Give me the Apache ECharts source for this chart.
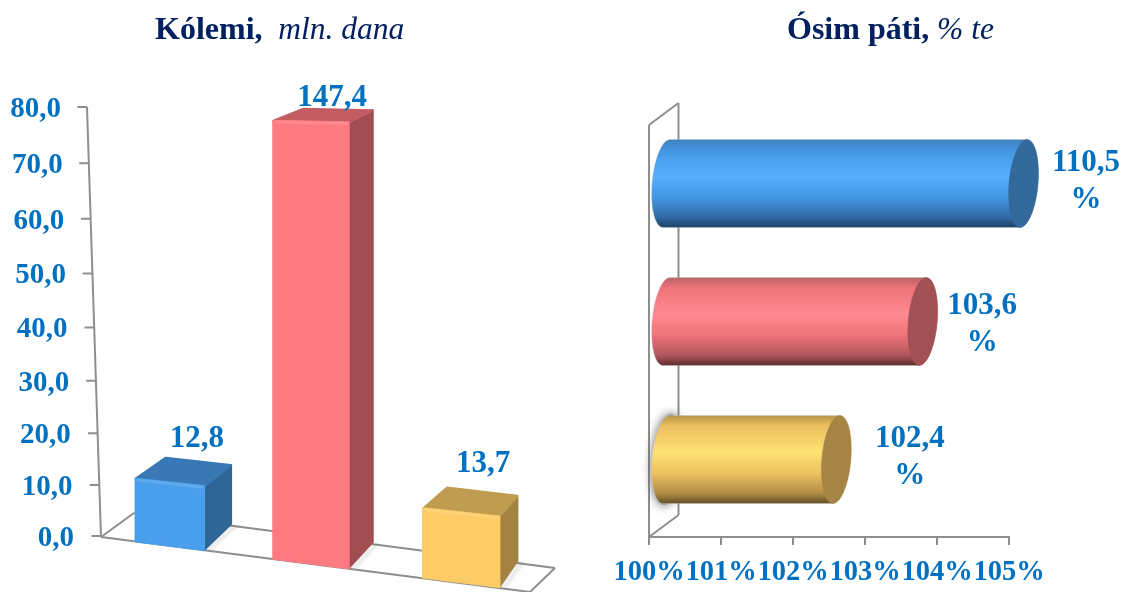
<!DOCTYPE html>
<html>
<head>
<meta charset="utf-8">
<style>html,body{margin:0;padding:0;background:#fff}#c{width:1123px;height:592px}</style>
<script src="https://cdn.jsdelivr.net/npm/echarts@6/dist/echarts.min.js"></script>
</head>
<body>
<div id="c"></div>
<script>
// ---- data ----
const categories = ['A', 'B', 'C'];
const volumeValues = [12.8, 147.4, 13.7];
const growthValues = [110.5, 103.6, 102.4];
const volumeTicks = [0, 10, 20, 30, 40, 50, 60, 70, 80];
const titleLeft = ['Kólemi,', '  mln. dana'];
const titleRight = ['Ósim páti,', ' % te'];

// ---- styling ----
const SERIF = '"Liberation Serif","Times New Roman",serif';
const BLUE = '#0070C0', NAVY = '#002060', FRAME = '#8E8E8E';
const boxFaces = [
  {front: '#4A9FEC', top: '#3A78B5', side: '#2F6697'},
  {front: '#FE7A81', top: '#C35C63', side: '#A04E52'},
  {front: '#FECC66', top: '#BF9C4F', side: '#A38343'}
];
const cylFaces = [
  {cap: '#33689A', stops: ['#3F7FBE', '#4595E0', '#55B0FF', '#4596E2', '#2F6AA6', '#1C4064']},
  {cap: '#A15054', stops: ['#B5646A', '#EE7279', '#FF8A91', '#EE7279', '#B0565C', '#5A2A2D']},
  {cap: '#A68544', stops: ['#B3934D', '#EDBE5E', '#FDE374', '#EDBE5E', '#B08E48', '#5E4B22']}
];
// perspective tuning of the drawn 3-D look
const boxNudgeX = [0, -4.5, 0], boxWidth = [68, 75, 76], boxHeightK = [0.955, 1.02, 0.98];
const boxDepthRight = [27, 24, 18], boxDepthLeft = [30, 30, 24];
const boxLabelDX = [27, 21, 22], boxLabelDY = [-19, -11, -24];
const cylLabelDX = [48, 45, 59], cylLabelDY = [-2.5, 3, -2];
const bow = v => 0.00375 * v * (80 - v);

const maxVolume = 80, maxGrowth = 105, minGrowth = 100;

const rich = {};
volumeTicks.forEach(v => {
  rich['t' + v] = {
    fontFamily: SERIF, fontWeight: 'bold', fontSize: 29, color: BLUE,
    padding: [2 * bow(v) + 5, v * 13 / 80 + 1, 0, 0]
  };
});

function poly(points, fill, stroke, extra) {
  return {type: 'polygon', shape: {points}, style: Object.assign({fill, stroke: stroke || fill, lineWidth: 2.5, lineJoin: 'round'}, extra || {})};
}

function renderFrameLeft(params, api) {
  const g = params.coordSys;
  const x0 = g.x, y0 = g.y + g.height;
  const axisX = v => x0 + 4 - 0.175 * v;
  const axisY = v => api.coord([0, v])[1] + bow(v);
  const line = (a, b) => ({type: 'line', shape: {x1: a[0], y1: a[1], x2: b[0], y2: b[1]}, style: {stroke: FRAME, lineWidth: 2}});
  const kids = [line([axisX(maxVolume), axisY(maxVolume)], [axisX(0), axisY(0) + 1])];
  volumeTicks.forEach(v => kids.push(line([axisX(v) - 9.5, axisY(v)], [axisX(v), axisY(v)])));
  const o = [axisX(0), y0 + 1];
  const back = [o[0] + 33, o[1] - 24];
  const backR = [o[0] + 454, o[1] + 31];
  const frontR = [o[0] + 429, o[1] + 55];
  kids.push(line(o, back), line(back, backR), line(backR, frontR), line(o, frontR));
  return {type: 'group', children: kids};
}

function renderBox(params, api) {
  const i = api.value(0), v = api.value(1);
  const g = params.coordSys;
  const shown = Math.min(v, maxVolume);
  const f = boxFaces[i];
  const cx = api.coord([i, 0])[0] + boxNudgeX[i];
  const w = boxWidth[i];
  const xL = cx - w / 2, xR = cx + w / 2;
  const floorY = x => g.y + g.height + 1 + 0.125 * (x - g.x - 4);
  const h = (api.coord([i, 0])[1] - (api.coord([i, shown])[1] + bow(shown))) * boxHeightK[i];
  const slope = 0.125 * (1 - h / 520);
  const bl = [xL, floorY(xL)], br = [xR, floorY(xR)];
  const tl = [xL, bl[1] - h], tr = [xR, bl[1] - h + slope * w];
  const dyTop = -22.5 + h * 0.024;
  const tr2 = [xR + boxDepthRight[i], tr[1] + dyTop];
  const br2 = [xR + boxDepthRight[i], br[1] - 26];
  const tl2 = [xL + boxDepthLeft[i], tl[1] + dyTop];
  const shadow = poly([[xR, br[1]], [br2[0], br2[1]], [br2[0] + 8, br2[1] + 2], [xR + 8, br[1] + 1]], 'rgba(120,120,120,0.10)', 'rgba(120,120,120,0)', {lineWidth: 0, shadowBlur: 6, shadowColor: 'rgba(120,120,120,0.25)'});
  const bevel = points => ({type: 'polyline', shape: {points}, style: {fill: 'none', stroke: 'rgba(255,255,255,0.12)', lineWidth: 3, lineJoin: 'round'}});
  return {type: 'group', children: [
    shadow,
    poly([tr, tr2, br2, br], f.side),
    poly([tl, tl2, tr2, tr], f.top),
    poly([tl, tr, br, bl], f.front),
    bevel([[tl[0] + 1, tl[1] + 1], [tr[0] - 1, tr[1] + 1]]),
    {type: 'text', style: {
      text: v.toFixed(1).replace('.', ','),
      x: cx + boxLabelDX[i], y: tl2[1] + boxLabelDY[i],
      fill: BLUE, font: 'bold 31px ' + SERIF, textAlign: 'center', textVerticalAlign: 'middle'
    }}
  ]};
}

function renderFrameRight(params, api) {
  const g = params.coordSys;
  const xO = api.coord([minGrowth, 0])[0];
  const bottom = g.y + g.height + 8.5, top = 125, dx = 29.5, dy = 22;
  const line = (a, b) => ({type: 'line', shape: {x1: a[0], y1: a[1], x2: b[0], y2: b[1]}, style: {stroke: FRAME, lineWidth: 2}});
  return {type: 'group', children: [
    line([xO, bottom], [xO, top]),
    line([xO, top], [xO + dx, top - dy]),
    line([xO + dx, top - dy], [xO + dx, bottom - dy]),
    line([xO + dx, bottom - dy], [xO, bottom])
  ]};
}

function ellipsePts(cx, cy, rx, ry, sk, from, to) {
  const pts = [], n = 36;
  for (let k = 0; k <= n; k++) {
    const t = (from + (to - from) * k / n) * Math.PI / 180;
    pts.push([cx + rx * Math.cos(t) - sk * Math.sin(t), cy + ry * Math.sin(t)]);
  }
  return pts;
}

function renderCyl(params, api) {
  const v = api.value(0), i = api.value(1);
  const shown = Math.min(v, maxGrowth);
  const f = cylFaces[i];
  const rx = 14.5, ry = 44, sk = 3.5;
  const [xEnd, cy] = api.coord([shown, i]);
  const xStart = api.coord([minGrowth, i])[0];
  const c0 = xStart + 17.5, c1 = xEnd + rx;
  const stops = [0, 0.12, 0.42, 0.66, 0.88, 1].map((o, k) => ({offset: o, color: f.stops[k]}));
  const grad = new echarts.graphic.LinearGradient(0, 0, 0, 1, stops);
  const body = ellipsePts(c0, cy, rx, ry, sk, -90, -270).concat(ellipsePts(c1, cy, rx, ry, sk, 90, -90));
  const kids = [];
  if (i === 2) {
    kids.push(poly(ellipsePts(c0 + 1, cy, rx, ry + 1, sk, 0, 360), '#999', '#999', {lineWidth: 1, shadowBlur: 10, shadowColor: 'rgba(80,80,80,0.9)'}));
  }
  kids.push(poly(body, grad, 'rgba(205,205,205,0.35)', {lineWidth: 1}));
  kids.push(poly(ellipsePts(c1, cy, rx, ry, sk, 0, 360), f.cap, f.cap, {lineWidth: 0.5}));
  kids.push({type: 'text', style: {
    text: v.toFixed(1).replace('.', ',') + '\n%',
    x: c1 + rx + cylLabelDX[i], y: cy + cylLabelDY[i],
    fill: BLUE, font: 'bold 31px ' + SERIF, lineHeight: 37, textAlign: 'center', textVerticalAlign: 'middle'
  }});
  return {type: 'group', children: kids};
}

const titleStyle = {
  rich: {
    b: {fontFamily: SERIF, fontWeight: 'bold', fontSize: 32, color: NAVY},
    i: {fontFamily: SERIF, fontWeight: 'normal', fontStyle: 'italic', fontSize: 31.5, color: NAVY}
  }
};

const option = {
  animation: false,
  backgroundColor: '#fff',
  title: [
    {left: 155, top: 15, text: '{b|' + titleLeft[0] + '}{i|' + titleLeft[1] + '}', textStyle: titleStyle, padding: 0},
    {left: 787, top: 15, text: '{b|' + titleRight[0] + '}{i|' + titleRight[1] + '}', textStyle: titleStyle, padding: 0}
  ],
  grid: [
    {left: 97, top: 107, width: 437, height: 429},
    {left: 649, top: 114.5, width: 360, height: 414}
  ],
  xAxis: [
    {gridIndex: 0, type: 'category', data: categories, axisLine: {show: false}, axisTick: {show: false}, axisLabel: {show: false}},
    {gridIndex: 1, type: 'value', min: minGrowth, max: maxGrowth, interval: 1, offset: 8.5,
      axisLine: {show: true, lineStyle: {color: FRAME, width: 2}},
      axisTick: {show: true, length: 8, lineStyle: {color: FRAME, width: 2}},
      splitLine: {show: false},
      axisLabel: {margin: 21, showMinLabel: true, showMaxLabel: true, formatter: '{value}%', fontFamily: SERIF, fontWeight: 'bold', fontSize: 28.5, color: BLUE, hideOverlap: false}}
  ],
  yAxis: [
    {gridIndex: 0, type: 'value', min: 0, max: maxVolume, interval: 10,
      axisLine: {show: false}, axisTick: {show: false}, splitLine: {show: false},
      axisLabel: {margin: 22, showMinLabel: true, showMaxLabel: true, rich, formatter: v => '{t' + v + '|' + v.toFixed(1).replace('.', ',') + '}'}},
    {gridIndex: 1, type: 'category', inverse: true, data: categories,
      axisLine: {show: false}, axisTick: {show: false}, axisLabel: {show: false}}
  ],
  series: [
    {type: 'custom', xAxisIndex: 0, yAxisIndex: 0, data: [[0, 0]], renderItem: renderFrameLeft, silent: true, z: 1},
    {type: 'custom', xAxisIndex: 0, yAxisIndex: 0, data: volumeValues.map((v, i) => [i, v]), encode: {x: 0, y: 1}, renderItem: renderBox, z: 2},
    {type: 'custom', xAxisIndex: 1, yAxisIndex: 1, data: [[minGrowth, 0]], renderItem: renderFrameRight, silent: true, z: 1},
    {type: 'custom', xAxisIndex: 1, yAxisIndex: 1, data: growthValues.map((v, i) => [v, i]), encode: {x: 0, y: 1}, renderItem: renderCyl, z: 2}
  ]
};
echarts.init(document.getElementById('c'), null, {renderer: 'canvas'}).setOption(option);
</script>
</body>
</html>
